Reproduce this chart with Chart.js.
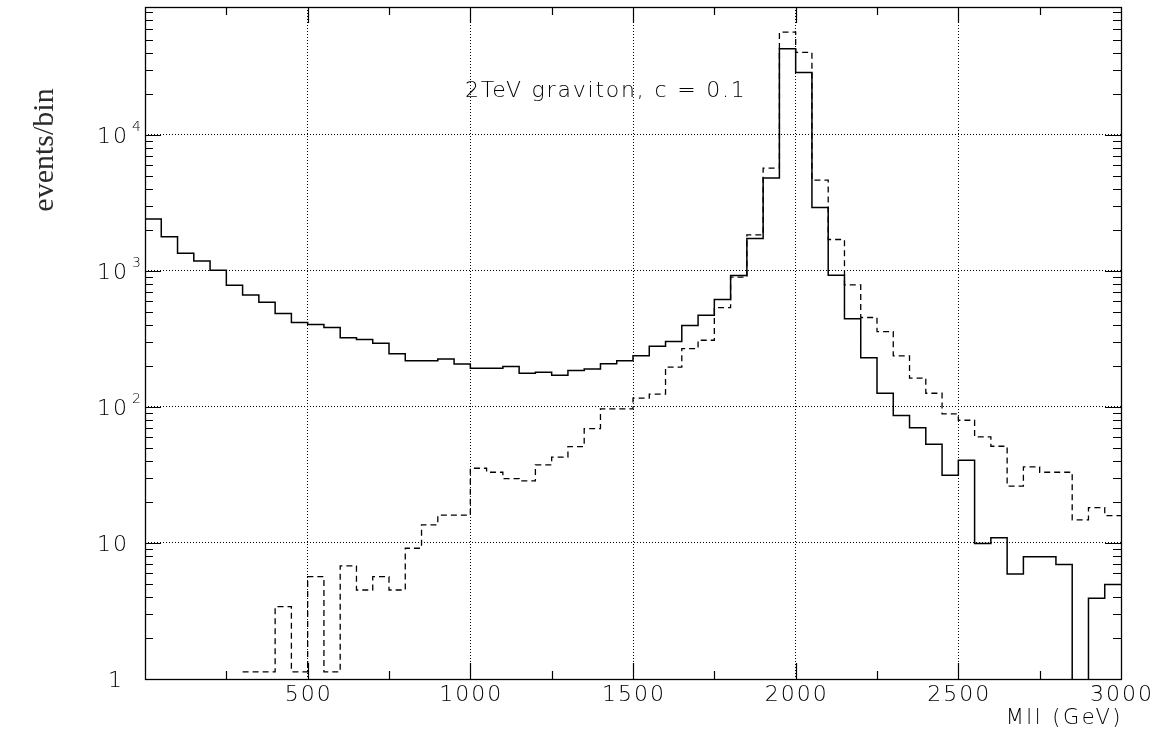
<!DOCTYPE html>
<html>
<head>
<meta charset="utf-8">
<script src="https://cdn.jsdelivr.net/npm/chart.js@4.4.1/dist/chart.umd.min.js"></script>
<style>
  html, body { margin: 0; padding: 0; background: #ffffff; }
  #wrap { width: 1163px; height: 740px; position: relative; }
</style>
</head>
<body>
<div id="wrap"><canvas id="c" width="1163" height="740"></canvas></div>
<script>
// ---- Data ----
// Low edges of the 50 GeV bins (GeV)
const binLowEdges = [
  0, 50, 100, 150, 200, 250, 300, 350, 400, 450,
  500, 550, 600, 650, 700, 750, 800, 850, 900, 950,
  1000, 1050, 1100, 1150, 1200, 1250, 1300, 1350, 1400, 1450,
  1500, 1550, 1600, 1650, 1700, 1750, 1800, 1850, 1900, 1950,
  2000, 2050, 2100, 2150, 2200, 2250, 2300, 2350, 2400, 2450,
  2500, 2550, 2600, 2650, 2700, 2750, 2800, 2850, 2900, 2950
];
const histUpperEdge = 3000;

// Solid histogram (events/bin); 0 = empty bin
const solidCounts = [
  2410, 1780, 1350, 1180, 1010, 785, 666, 589, 485, 417,
  403, 383, 323, 313, 294, 246, 218, 218, 225, 207,
  192, 192, 198, 177, 180, 171, 185, 190, 208, 218,
  238, 279, 302, 396, 472, 615, 924, 1729, 4805, 42900,
  28700, 2920, 929, 444, 230, 126, 86.3, 70.4, 53.1, 31.5,
  40.5, 9.9, 10.9, 5.92, 7.93, 7.93, 6.93, 0, 3.92, 4.94
];

// Dashed histogram (events/bin); null = nothing drawn yet
const dashedCounts = [
  null, null, null, null, null, null, 1.13, 1.13, 3.40, 1.13,
  5.65, 1.13, 6.78, 4.51, 5.65, 4.51, 9.14, 13.6, 16.0, 16.0,
  35.4, 33.1, 29.7, 28.6, 37.5, 42.7, 51.1, 69.2, 96.7, 96.7,
  116, 124, 196, 268, 309, 537, 900, 1840, 5690, 56900,
  40300, 4640, 1700, 789, 454, 358, 237, 163, 126, 88.9,
  79.8, 60.2, 51.4, 26.2, 36.2, 33.1, 33.1, 14.8, 18.2, 15.9
];

// Axes
const xMin = 0, xMax = 3000;
const yMin = 1, yMax = 87000;
const xGridValues = [0, 500, 1000, 1500, 2000, 2500, 3000];
const xTickLabelValues = [500, 1000, 1500, 2000, 2500, 3000];
const xTickLabels = ['500', '1000', '1500', '2000', '2500', '3000'];
const xMinorTickValues = [250, 750, 1250, 1750, 2250, 2750];
const yTickValues = [1, 10, 100, 1000, 10000];
const yTickBase = ['1', '10', '10', '10', '10'];
const yTickExp = ['', '', '2', '3', '4'];
const xTitle = 'Mll (GeV)';
const yTitle = 'events/bin';
const annotationText = '2TeV graviton, c = 0.1';

// log axis cannot show 0: empty bins are placed below the axis minimum (clipped)
const EMPTY_FLOOR = 0.3;

function toSteps(counts) {
  const pts = binLowEdges.map((x, i) => {
    const v = counts[i];
    return { x: x, y: v === null ? null : (v <= 0 ? EMPTY_FLOOR : v) };
  });
  const last = pts[pts.length - 1];
  pts.push({ x: histUpperEdge, y: last.y });
  return pts;
}

const FONT = '"DejaVu Sans", "Liberation Sans", sans-serif';

const framePlugin = {
  id: 'pawFrame',
  afterDraw(chart) {
    const { ctx, chartArea: a, scales: { x, y } } = chart;
    ctx.save();
    ctx.strokeStyle = '#000';
    ctx.lineWidth = 1.3;
    ctx.setLineDash([]);
    ctx.strokeRect(a.left + 0.5, a.top + 0.5, a.right - a.left, a.bottom - a.top);

    // x-axis tick marks (bottom and top, pointing inwards)
    ctx.lineWidth = 1.2;
    ctx.beginPath();
    xGridValues.slice(1, -1).forEach(v => {
      const px = Math.round(x.getPixelForValue(v)) + 0.5;
      ctx.moveTo(px, a.bottom); ctx.lineTo(px, a.bottom - 16);
      ctx.moveTo(px, a.top); ctx.lineTo(px, a.top + 16);
    });
    xMinorTickValues.forEach(v => {
      const px = Math.round(x.getPixelForValue(v)) + 0.5;
      ctx.moveTo(px, a.bottom); ctx.lineTo(px, a.bottom - 8);
      ctx.moveTo(px, a.top); ctx.lineTo(px, a.top + 8);
    });
    // y-axis tick marks (left and right, log minors)
    yTickValues.forEach(dec => {
      for (let m = 1; m <= 9; m++) {
        const v = dec * m;
        if (v > yMax || v <= yMin) continue;
        const py = Math.round(y.getPixelForValue(v)) + 0.5;
        const len = m === 1 ? 16 : 8;
        ctx.moveTo(a.left, py); ctx.lineTo(a.left + len, py);
        ctx.moveTo(a.right, py); ctx.lineTo(a.right - len, py);
      }
    });
    ctx.stroke();

    // tick labels
    ctx.fillStyle = '#000';
    ctx.font = '200 22px ' + FONT;
    ctx.letterSpacing = '2px';
    ctx.textAlign = 'center';
    ctx.textBaseline = 'alphabetic';
    xTickLabelValues.forEach((v, i) => {
      const px = x.getPixelForValue(v);
      ctx.fillText(xTickLabels[i], px + 1, a.bottom + 22);
    });
    ctx.textAlign = 'right';
    yTickValues.forEach((v, i) => {
      const py = y.getPixelForValue(v);
      ctx.font = '200 22px ' + FONT;
      const rx = yTickBase[i] === '1' ? 124 : 129;
      ctx.fillText(yTickBase[i], rx, py + 8);
      if (yTickExp[i]) {
        ctx.textAlign = 'left';
        ctx.font = '200 14px ' + FONT;
        ctx.letterSpacing = '0px';
        ctx.fillText(yTickExp[i], 132, py - 4);
        ctx.letterSpacing = '2px';
        ctx.textAlign = 'right';
      }
    });

    // axis title (x)
    ctx.font = '200 21px ' + FONT;
    ctx.letterSpacing = '2.5px';
    ctx.textAlign = 'right';
    ctx.fillText(xTitle, a.right + 2, 724);

    // annotation
    ctx.font = '200 22px ' + FONT;
    ctx.letterSpacing = '1.8px';
    ctx.textAlign = 'left';
    ctx.fillText(annotationText, 465, 97);

    // y title (rotated, serif)
    ctx.letterSpacing = '0px';
    ctx.fillStyle = '#2a2a2a';
    ctx.font = '30px "Liberation Serif", "DejaVu Serif", serif';
    ctx.translate(53, 150);
    ctx.rotate(-Math.PI / 2);
    ctx.textAlign = 'center';
    ctx.textBaseline = 'alphabetic';
    ctx.fillText(yTitle, 0, 0);
    ctx.restore();
  }
};

const ctx = document.getElementById('c').getContext('2d');
new Chart(ctx, {
  type: 'line',
  data: {
    datasets: [
      {
        label: 'solid',
        data: toSteps(solidCounts),
        stepped: 'before',
        borderColor: '#000',
        borderWidth: 1.5,
        pointRadius: 0,
        fill: false,
        spanGaps: false
      },
      {
        label: 'dashed',
        data: toSteps(dashedCounts),
        stepped: 'before',
        borderColor: '#000',
        borderWidth: 1.3,
        borderDash: [6, 4],
        pointRadius: 0,
        fill: false,
        spanGaps: false
      }
    ]
  },
  options: {
    responsive: false,
    animation: false,
    devicePixelRatio: 1,
    layout: { padding: { left: 145, right: 42, top: 7, bottom: 61 } },
    plugins: { legend: { display: false }, tooltip: { enabled: false }, title: { display: false } },
    scales: {
      x: {
        type: 'linear',
        min: xMin,
        max: xMax,
        afterBuildTicks: s => { s.ticks = xGridValues.map(v => ({ value: v })); },
        ticks: { display: false },
        grid: { color: '#000', lineWidth: 1, drawTicks: false },
        border: { display: false, dash: [1, 2] }
      },
      y: {
        type: 'logarithmic',
        min: yMin,
        max: yMax,
        afterBuildTicks: s => { s.ticks = yTickValues.map(v => ({ value: v })); },
        ticks: { display: false },
        grid: { color: '#000', lineWidth: 1, drawTicks: false },
        border: { display: false, dash: [1, 2] }
      }
    }
  },
  plugins: [framePlugin]
});
</script>
</body>
</html>
